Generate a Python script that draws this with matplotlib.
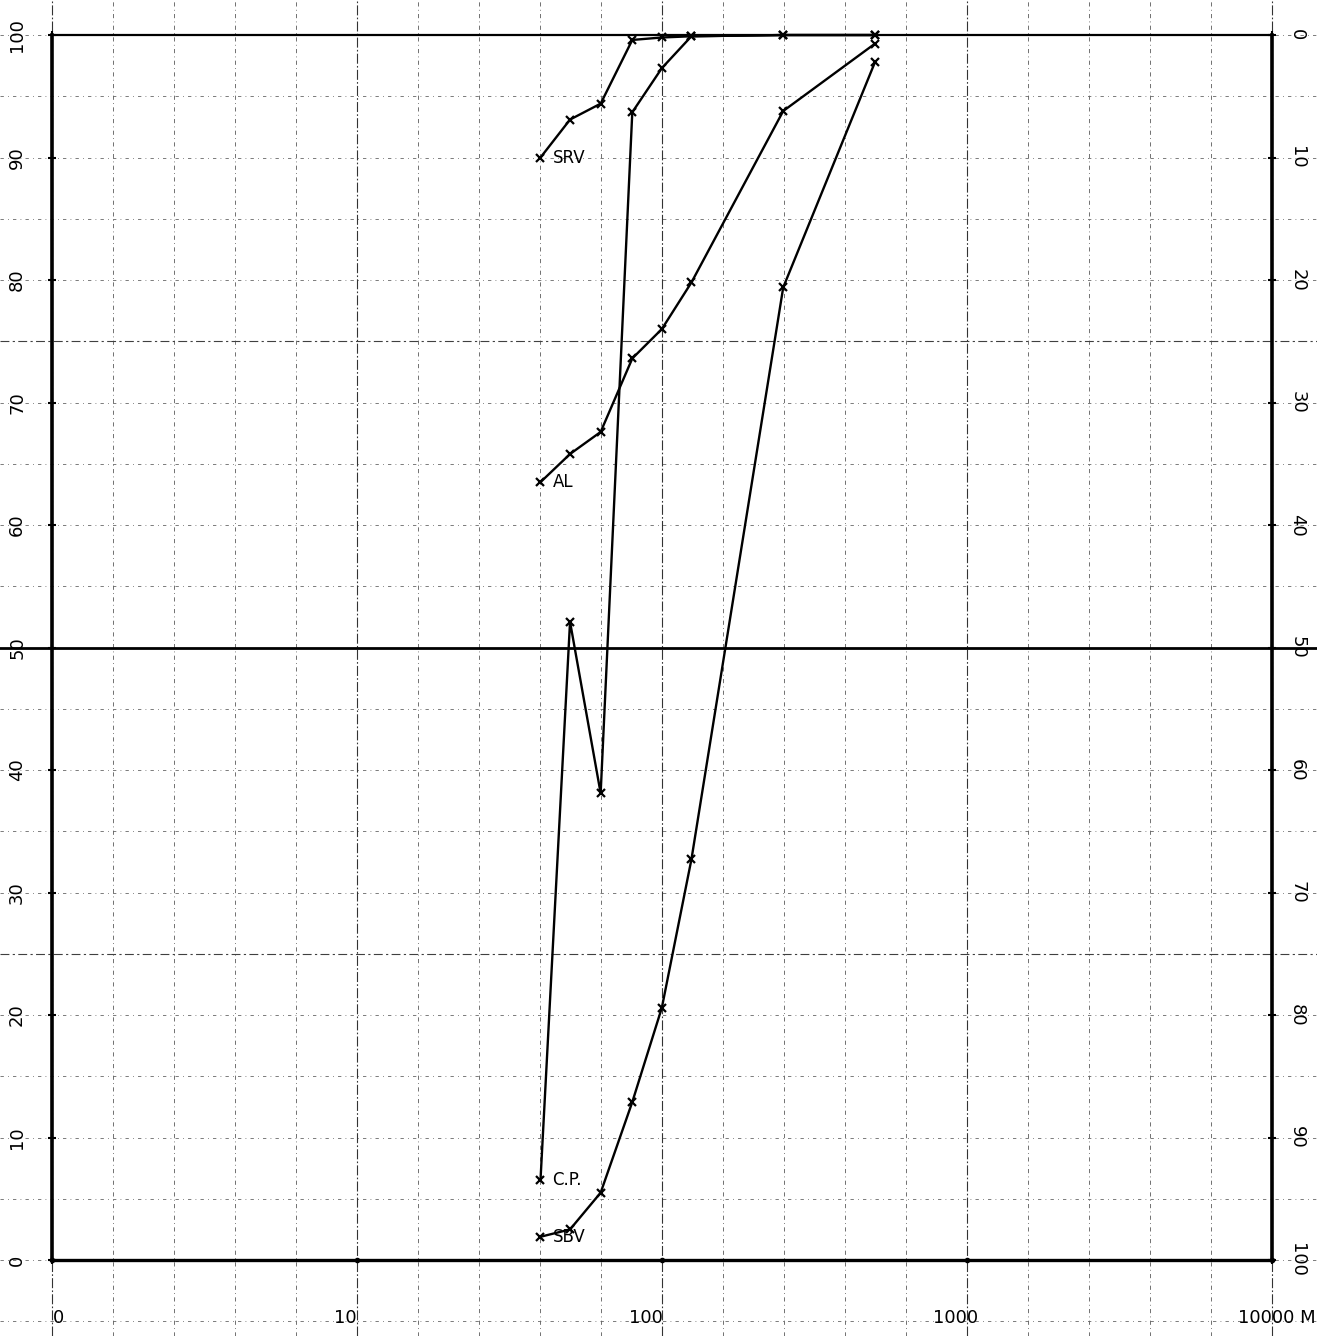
import numpy as np
import matplotlib
matplotlib.use("Agg")
import matplotlib.pyplot as plt

# Granulometric curves (cumulative % passing vs. size in microns)
sizes = [40, 50, 63, 80, 100, 125, 250, 500]
srv = [90.0, 93.1, 94.4, 99.6, 99.8, 99.9, 100.0, 100.0]
al = [63.5, 65.8, 67.6, 73.6, 76.0, 79.8, 93.8, 99.3]
cp = [6.5, 52.1, 38.1, 93.7, 97.3, 99.9, 100.0, 100.0]
sbv = [1.9, 2.5, 5.5, 12.9, 20.6, 32.7, 79.4, 97.8]

series_names = ["SRV", "AL", "C.P.", "SBV"]
series_values = [srv, al, cp, sbv]

left_ticks = [0, 10, 20, 30, 40, 50, 60, 70, 80, 90, 100]
bottom_ticks = [1, 10, 100, 1000, 10000]
bottom_labels = ["0", "10", "100", "1000", "10000 M"]

fig = plt.figure(figsize=(13.17, 13.36), dpi=100)
ax = fig.add_axes([0, 0, 1, 1])
ax.set_xscale("log")
ax.set_xlim(10 ** -0.170, 10 ** 4.148)
ax.set_ylim(-6.2, 102.86)
ax.axis("off")

# grid: 5 lines per decade, horizontal every 5 %
for k in range(-1, 22):
    xv = 10 ** (k * 0.2)
    strong = k % 5 == 0
    ax.axvline(xv, color="0.2" if strong else "0.35", lw=0.8 if strong else 0.6,
               ls=(0, (9, 2, 1.5, 2)) if strong else (0, (5, 4, 1, 4)), zorder=1)
for yv in range(-5, 105, 5):
    strong = yv in (25, 75)
    ax.axhline(yv, color="0.25" if strong else "0.4", lw=0.8 if strong else 0.6,
               ls=(0, (8, 3, 2, 3)) if strong else (0, (4, 5, 1, 5)), zorder=1)

# heavy frame lines
ax.plot([1, 1], [0, 100], color="black", lw=2.6, zorder=2)
ax.plot([10000, 10000], [0, 100], color="black", lw=2.6, zorder=2)
ax.plot([1, 10000], [0, 0], color="black", lw=2.4, zorder=2)
ax.plot([1, 10000], [100, 100], color="black", lw=1.6, zorder=2)
ax.axhline(50, color="black", lw=2.0, zorder=2)

# tick dots on the axes
ax.plot([1] * len(left_ticks), left_ticks, ls="none", marker="+", ms=6, mew=1.5, color="black", zorder=3)
ax.plot([10000] * len(left_ticks), left_ticks, ls="none", marker="+", ms=6, mew=1.5, color="black", zorder=3)
ax.plot(bottom_ticks, [0] * len(bottom_ticks), ls="none", marker="o", ms=3, color="black", zorder=3)

# left and right tick labels
ytr = ax.get_yaxis_transform()
for v in left_ticks:
    ax.text(0.013, v, str(v), transform=ytr, rotation=90, ha="center", va="center",
            fontsize=13)
    ax.text(0.985, v, str(100 - v), transform=ytr, rotation=-90, ha="center", va="center",
            fontsize=13)

# bottom labels
xtr = ax.get_xaxis_transform()
offsets = [(7, "center"), (-12, "center"), (-16, "center"), (-11, "center"), (-34, "left")]
for t, lab, (dx, ha) in zip(bottom_ticks, bottom_labels, offsets):
    ax.annotate(lab, xy=(t, 0.0135), xycoords=xtr, xytext=(dx, 0),
                textcoords="offset pixels", ha=ha, va="center", fontsize=13)

# curves
for name, vals in zip(series_names, series_values):
    ax.plot(sizes, vals, color="black", lw=1.7, marker="x", ms=6, mew=1.6, zorder=4)
    ax.annotate(name, xy=(sizes[0], vals[0]), xytext=(12, 0), textcoords="offset pixels",
                ha="left", va="center", fontsize=12, zorder=5)

fig.savefig("out.png", dpi=100)
